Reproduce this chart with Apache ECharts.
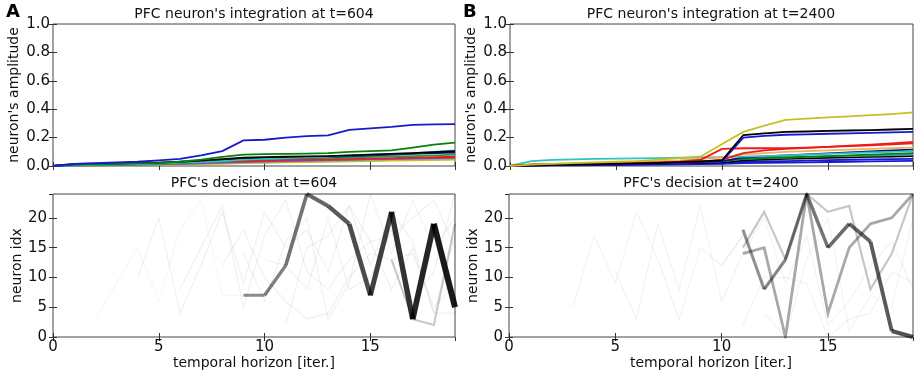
<!DOCTYPE html>
<html>
<head>
<meta charset="utf-8">
<script src="https://cdn.jsdelivr.net/npm/echarts@6/dist/echarts.min.js"></script>
<style>
html, body { margin: 0; padding: 0; background: #fff; }
#chart { width: 921px; height: 375px; }
</style>
</head>
<body>
<div id="chart"></div>
<script>
// iterations of the temporal horizon
const iters = [0, 1, 2, 3, 4, 5, 6, 7, 8, 9, 10, 11, 12, 13, 14, 15, 16, 17, 18, 19];

// panel A, top: neuron amplitudes at t=604
const ampA_yellow  = [0, 0.002, 0.003, 0.004, 0.005, 0.007, 0.010, 0.013, 0.016, 0.020, 0.022, 0.025, 0.028, 0.030, 0.033, 0.035, 0.038, 0.040, 0.042, 0.045];
const ampA_teal    = [0, 0.004, 0.006, 0.008, 0.010, 0.012, 0.015, 0.018, 0.022, 0.026, 0.030, 0.033, 0.036, 0.039, 0.042, 0.045, 0.048, 0.050, 0.052, 0.055];
const ampA_magenta = [0, 0.003, 0.005, 0.007, 0.009, 0.012, 0.015, 0.020, 0.025, 0.030, 0.033, 0.036, 0.040, 0.042, 0.045, 0.048, 0.050, 0.053, 0.056, 0.060];
const ampA_red     = [0, 0.015, 0.017, 0.018, 0.020, 0.022, 0.025, 0.028, 0.032, 0.036, 0.040, 0.043, 0.046, 0.048, 0.050, 0.053, 0.056, 0.060, 0.062, 0.065];
const ampA_green2  = [0, 0.006, 0.008, 0.010, 0.012, 0.015, 0.020, 0.027, 0.035, 0.045, 0.050, 0.052, 0.055, 0.058, 0.060, 0.065, 0.068, 0.070, 0.075, 0.080];
const ampA_navy    = [0, 0.008, 0.010, 0.012, 0.015, 0.018, 0.022, 0.030, 0.040, 0.050, 0.055, 0.058, 0.060, 0.062, 0.070, 0.075, 0.080, 0.085, 0.090, 0.095];
const ampA_cyan    = [0, 0.005, 0.008, 0.010, 0.013, 0.017, 0.022, 0.028, 0.035, 0.045, 0.050, 0.055, 0.060, 0.065, 0.075, 0.080, 0.085, 0.090, 0.100, 0.110];
const ampA_black   = [0, 0.012, 0.015, 0.017, 0.020, 0.024, 0.030, 0.038, 0.048, 0.058, 0.062, 0.065, 0.068, 0.070, 0.075, 0.080, 0.085, 0.090, 0.097, 0.105];
const ampA_green   = [0, 0.010, 0.012, 0.015, 0.018, 0.022, 0.030, 0.045, 0.065, 0.080, 0.083, 0.085, 0.087, 0.090, 0.100, 0.105, 0.110, 0.130, 0.150, 0.165];
const ampA_blue    = [0, 0.015, 0.020, 0.025, 0.030, 0.040, 0.050, 0.075, 0.105, 0.180, 0.185, 0.200, 0.210, 0.215, 0.255, 0.265, 0.275, 0.290, 0.293, 0.295];

// panel B, top: neuron amplitudes at t=2400
const ampB_blue3  = [0, 0.003, 0.004, 0.005, 0.006, 0.007, 0.008, 0.010, 0.012, 0.014, 0.016, 0.020, 0.022, 0.024, 0.026, 0.028, 0.030, 0.032, 0.034, 0.036];
const ampB_blue2  = [0, 0.004, 0.006, 0.008, 0.010, 0.012, 0.014, 0.016, 0.018, 0.020, 0.022, 0.028, 0.032, 0.035, 0.038, 0.041, 0.044, 0.046, 0.048, 0.050];
const ampB_black2 = [0, 0.005, 0.007, 0.009, 0.011, 0.013, 0.015, 0.017, 0.020, 0.022, 0.025, 0.040, 0.045, 0.050, 0.054, 0.058, 0.061, 0.064, 0.067, 0.070];
const ampB_teal   = [0, 0.006, 0.008, 0.010, 0.013, 0.016, 0.019, 0.022, 0.025, 0.028, 0.032, 0.050, 0.055, 0.060, 0.064, 0.068, 0.071, 0.074, 0.077, 0.080];
const ampB_green  = [0, 0.006, 0.009, 0.012, 0.015, 0.018, 0.021, 0.024, 0.027, 0.030, 0.034, 0.050, 0.055, 0.060, 0.065, 0.070, 0.075, 0.080, 0.085, 0.090];
const ampB_navy   = [0, 0.007, 0.010, 0.013, 0.016, 0.019, 0.022, 0.025, 0.028, 0.031, 0.035, 0.060, 0.068, 0.075, 0.082, 0.089, 0.096, 0.103, 0.109, 0.115];
const ampB_cyan   = [0, 0.035, 0.043, 0.047, 0.050, 0.052, 0.054, 0.056, 0.058, 0.060, 0.062, 0.066, 0.070, 0.075, 0.080, 0.085, 0.090, 0.095, 0.100, 0.105];
const ampB_orange = [0, 0.008, 0.012, 0.016, 0.020, 0.025, 0.030, 0.035, 0.040, 0.050, 0.060, 0.080, 0.090, 0.100, 0.105, 0.110, 0.115, 0.120, 0.125, 0.130];
const ampB_red2   = [0, 0.010, 0.012, 0.014, 0.016, 0.018, 0.020, 0.022, 0.025, 0.030, 0.045, 0.090, 0.110, 0.120, 0.127, 0.135, 0.143, 0.150, 0.160, 0.170];
const ampB_red    = [0, 0.012, 0.014, 0.016, 0.018, 0.020, 0.022, 0.025, 0.030, 0.045, 0.120, 0.125, 0.125, 0.126, 0.130, 0.135, 0.140, 0.145, 0.152, 0.160];
const ampB_blue   = [0, 0.004, 0.006, 0.008, 0.010, 0.012, 0.015, 0.018, 0.022, 0.027, 0.032, 0.200, 0.212, 0.220, 0.223, 0.227, 0.230, 0.233, 0.237, 0.240];
const ampB_black  = [0, 0.005, 0.008, 0.010, 0.012, 0.015, 0.018, 0.022, 0.027, 0.033, 0.040, 0.218, 0.230, 0.240, 0.243, 0.247, 0.250, 0.253, 0.257, 0.262];
const ampB_yellow = [0, 0.010, 0.015, 0.020, 0.025, 0.030, 0.035, 0.045, 0.055, 0.067, 0.155, 0.240, 0.285, 0.325, 0.333, 0.342, 0.350, 0.358, 0.366, 0.377];

// panel A, bottom: decision path (neuron index per iteration)
const decisionA = [null, null, null, null, null, null, null, null, null, 7, 7, 12, 24, 22, 19, 7, 21, 3, 19, 5];
const secondA   = [null, null, null, null, null, null, null, null, null, null, null, null, null, null, null, null, 13, 3, 2, 19];
const faintA = [
  [null, null, 3, 9, 15, 6, 18, 23, 7, 7, null, null, null, null, null, null, null, null, null, null],
  [null, null, null, null, 10, 20, 4, 12, 21, 9, 21, 15, 18, 11, 22, 16, 17, 20, 23, 15],
  [null, null, null, null, null, null, 8, 15, 22, 5, 17, 23, 11, 8, 13, 16, 8, 15, 4, 4],
  [null, null, null, null, null, null, null, null, 12, 18, 10, 6, 3, 4, 10, 14, 13, 14, 5, 9],
  [null, null, null, null, null, null, null, null, null, 14, 6, 16, 20, 3, 9, 24, 14, 23, 15, 20],
  [null, null, null, null, null, null, null, null, null, null, 13, 12, 8, 20, 8, 10, 18, 6, 11, 24],
  [null, null, null, null, null, null, null, null, null, null, null, 2, 15, 17, 22, 12, 21, 16, 4, 17]
];

// panel B, bottom: decision paths at t=2400
const decisionB = [null, null, null, null, null, null, null, null, null, null, null, 18, 8, 13, 24, 15, 19, 16, 1, 0];
const secondB   = [null, null, null, null, null, null, null, null, null, null, null, 14, 15, 0, 24, 4, 15, 19, 20, 24];
const thirdB    = [null, null, null, null, null, null, null, null, null, null, null, 15, 21, 13, 24, 21, 22, 8, 14, 24];
const faintB = [
  [null, null, null, 5, 17, 9, 21, 13, 3, 15, 12, 17, null, null, null, null, null, null, null, null],
  [null, null, null, null, null, null, null, null, null, null, null, 2, 10, 10, 9, 0, 3, 4, 11, 9],
  [null, null, null, null, null, null, null, null, null, null, null, null, 4, 0, 13, 20, 1, 7, 5, 20],
  [null, null, null, null, null, 11, 3, 19, 8, 22, 6, 14, 20, 9, 17, 2, 6, 12, 16, 8],
  [null, null, null, null, null, null, null, null, null, null, 12, 17, null, null, null, null, null, null, null, null]
];

// tick labels
const ampTicks = [0, 0.2, 0.4, 0.6, 0.8, 1.0];
const idxTicks = [0, 5, 10, 15, 20];
const iterTicks = [0, 5, 10, 15];

const colors = {
  blue: '#1818d0', navy: '#101080', green: '#0a800a', green2: '#2a9a4a',
  red: '#ee1a1a', cyan: '#2cc4c4', teal: '#3aa6a0', magenta: '#b030b0',
  yellow: '#c8c020', black: '#000000', orange: '#f0b060'
};

const topA = [
  ['yellow', ampA_yellow], ['teal', ampA_teal], ['magenta', ampA_magenta], ['red', ampA_red],
  ['green2', ampA_green2], ['navy', ampA_navy], ['cyan', ampA_cyan], ['black', ampA_black],
  ['green', ampA_green], ['blue', ampA_blue]
];
const topB = [
  ['blue', ampB_blue3], ['blue', ampB_blue2], ['black', ampB_black2], ['teal', ampB_teal],
  ['green', ampB_green], ['navy', ampB_navy], ['cyan', ampB_cyan], ['orange', ampB_orange],
  ['red', ampB_red2], ['red', ampB_red], ['blue', ampB_blue], ['black', ampB_black], ['yellow', ampB_yellow]
];

const FONT = 'DejaVu Sans';
const grids = [
  { left: 53, top: 24, width: 402, height: 142 },
  { left: 510, top: 24, width: 403, height: 142 },
  { left: 53, top: 194, width: 402, height: 143 },
  { left: 509, top: 194, width: 404, height: 143 }
];

const tickStyle = { show: true, inside: true, length: 4, lineStyle: { color: '#333' } };

const xAxes = [];
const yAxes = [];
grids.forEach((g, i) => {
  const isBottom = i >= 2;
  xAxes.push({
    type: 'value', gridIndex: i, min: 0, max: 19, interval: 5, position: 'bottom',
    axisLine: { show: false }, axisTick: tickStyle, splitLine: { show: false },
    axisLabel: {
      show: isBottom, showMaxLabel: false, margin: 3,
      fontFamily: FONT, fontSize: 15, color: '#111',
      formatter: v => iterTicks.indexOf(v) >= 0 ? String(v) : ''
    },
    name: isBottom ? 'temporal horizon [iter.]' : '',
    nameLocation: 'middle', nameGap: 17,
    nameTextStyle: { fontFamily: FONT, fontSize: 14, color: '#111' }
  });
  xAxes.push({
    type: 'value', gridIndex: i, min: 0, max: 19, interval: 5, position: 'top',
    axisLine: { show: false }, axisTick: tickStyle, splitLine: { show: false },
    axisLabel: { show: false }
  });
  yAxes.push({
    type: 'value', gridIndex: i, position: 'left',
    min: 0, max: isBottom ? 24 : 1, interval: isBottom ? 5 : 0.2,
    axisLine: { show: false }, axisTick: tickStyle, splitLine: { show: false },
    axisLabel: {
      showMaxLabel: !isBottom, margin: isBottom ? 6 : 3,
      fontFamily: FONT, fontSize: 15, color: '#111',
      formatter: v => isBottom
        ? (idxTicks.indexOf(v) >= 0 ? String(v) : '')
        : (ampTicks.some(t => Math.abs(t - v) < 1e-9) ? v.toFixed(1) : '')
    },
    name: isBottom ? 'neuron idx' : "neuron's amplitude",
    nameLocation: 'middle', nameGap: isBottom ? 28 : 32,
    nameTextStyle: { fontFamily: FONT, fontSize: 14, color: '#111' }
  });
  yAxes.push({
    type: 'value', gridIndex: i, position: 'right',
    min: 0, max: isBottom ? 24 : 1, interval: isBottom ? 5 : 0.2,
    axisLine: { show: false }, axisTick: tickStyle, splitLine: { show: false },
    axisLabel: { show: false }
  });
});

const series = [];
function pairs(vals) {
  return iters.map((x, k) => [x, vals[k]]);
}
function addLine(panel, vals, color, width, z) {
  series.push({
    type: 'line', xAxisIndex: panel * 2, yAxisIndex: panel * 2,
    data: pairs(vals), showSymbol: false, symbol: 'none', silent: true,
    connectNulls: false, z: z || 2,
    lineStyle: { color: color, width: width, cap: 'butt', join: 'miter' }
  });
}
// decision path drawn segment by segment, getting darker and thicker
function addPath(panel, vals, a0, a1, w0, w1) {
  const idx = [];
  vals.forEach((v, k) => { if (v !== null) idx.push(k); });
  const nSeg = idx.length - 1;
  for (let s = 0; s < nSeg; s++) {
    const t = nSeg > 1 ? s / (nSeg - 1) : 1;
    const seg = vals.map((v, k) => (k === idx[s] || k === idx[s + 1]) ? v : null);
    const a = a0 + (a1 - a0) * t;
    addLine(panel, seg, 'rgba(0,0,0,' + a.toFixed(3) + ')', w0 + (w1 - w0) * t, 5);
  }
}

topA.forEach(([c, v]) => addLine(0, v, colors[c], 1.8));
topB.forEach(([c, v]) => addLine(1, v, colors[c], 1.8));

faintA.forEach((v, k) => addLine(2, v, 'rgba(0,0,0,' + (k === 0 ? 0.035 : 0.06) + ')', 1.2));
addLine(2, secondA, 'rgba(0,0,0,0.22)', 2);
addPath(2, decisionA, 0.45, 0.9, 3, 6);

faintB.forEach(v => addLine(3, v, 'rgba(0,0,0,0.05)', 1.2));
addLine(3, thirdB, 'rgba(0,0,0,0.22)', 2.2);
addLine(3, secondB, 'rgba(0,0,0,0.34)', 2.8);
addPath(3, decisionB, 0.44, 0.68, 3, 4);

const titleText = (x, y, text) => ({
  type: 'text', x: x, y: y,
  style: { text: text, align: 'center', verticalAlign: 'middle', font: '14px "DejaVu Sans"', fill: '#111' }
});

const option = {
  animation: false,
  backgroundColor: '#ffffff',
  grid: grids.map(g => Object.assign({ show: true, borderColor: '#444', borderWidth: 1, backgroundColor: 'transparent', containLabel: false }, g)),
  xAxis: xAxes,
  yAxis: yAxes,
  series: series,
  graphic: [
    { type: 'text', x: 6, y: 3, style: { text: 'A', font: 'bold 18px "DejaVu Sans"', fill: '#000' } },
    { type: 'text', x: 463, y: 3, style: { text: 'B', font: 'bold 18px "DejaVu Sans"', fill: '#000' } },
    titleText(254, 14, "PFC neuron's integration at t=604"),
    titleText(711, 14, "PFC neuron's integration at t=2400"),
    titleText(254, 183, "PFC's decision at t=604"),
    titleText(711, 183, "PFC's decision at t=2400")
  ]
};

const myChart = echarts.init(document.getElementById('chart'));
myChart.setOption(option);
</script>
</body>
</html>
